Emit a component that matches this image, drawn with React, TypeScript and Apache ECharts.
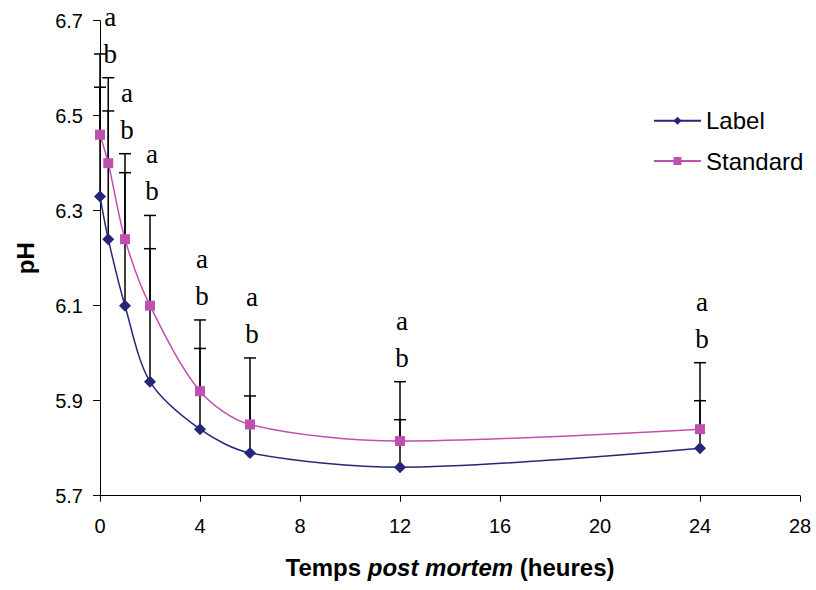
import React, { useEffect, useRef } from "react";
import * as echarts from "echarts";

// Hours post mortem
const times = [0, 0.33, 1, 2, 4, 6, 12, 24];
// pH, "Label" series
const labelPH = [6.33, 6.24, 6.1, 5.94, 5.84, 5.79, 5.76, 5.8];
// pH, "Standard" series
const standardPH = [6.46, 6.4, 6.24, 6.1, 5.92, 5.85, 5.815, 5.84];
// upper error bars (plus only)
const labelErr = [0.23, 0.27, 0.28, 0.28, 0.17, 0.12, 0.1, 0.1];
const standardErr = [0.17, 0.18, 0.18, 0.19, 0.15, 0.14, 0.125, 0.14];
// significance letters above each time point
const letterTop = ["", "a", "a", "a", "a", "a", "a", "a"];
const letterBottom = ["", "b", "b", "b", "b", "b", "b", "b"];
// axes
const yTicks = [5.7, 5.9, 6.1, 6.3, 6.5, 6.7];
const xTicks = [0, 4, 8, 12, 16, 20, 24, 28];
const seriesNames = ["Label", "Standard"];

const SANS = '"Liberation Sans", Arial, sans-serif';
const SERIF = '"Liberation Serif", "Times New Roman", serif';

export default function App() {
  const ref = useRef<HTMLDivElement>(null);

  useEffect(() => {
    if (!ref.current) return;
    const chart = echarts.init(ref.current, null, { renderer: "svg" });

    const errData = times.map((t, i) => [
      t,
      labelPH[i],
      labelPH[i] + labelErr[i],
      standardPH[i],
      standardPH[i] + standardErr[i],
    ]);

    const option: any = {
      animation: false,
      backgroundColor: "#ffffff",
      grid: {
        left: 100,
        right: 16,
        top: 20.7,
        bottom: 94.3,
        outerBoundsMode: "none",
      },
      legend: {
        orient: "vertical",
        left: 653,
        top: 107.7,
        padding: 0,
        itemWidth: 47,
        itemHeight: 10,
        itemGap: 14.3,
        textStyle: { fontFamily: SANS, fontSize: 24, color: "#000", lineHeight: 26 },
        data: seriesNames,
      },
      xAxis: {
        type: "value",
        min: xTicks[0],
        max: xTicks[xTicks.length - 1],
        interval: 4,
        splitLine: { show: false },
        axisLine: { show: true, lineStyle: { color: "#000", width: 1 } },
        axisTick: { show: true, length: 6, inside: false, lineStyle: { color: "#000" } },
        axisLabel: {
          customValues: xTicks,
          margin: 20,
          fontFamily: SANS,
          fontSize: 20,
          color: "#000",
        },
        name: "Temps {i|post mortem} (heures)",
        nameLocation: "middle",
        nameGap: 60,
        nameTextStyle: {
          fontFamily: SANS,
          fontSize: 24,
          fontWeight: "bold",
          color: "#000",
          rich: {
            i: {
              fontFamily: SANS,
              fontSize: 24,
              fontWeight: "bold",
              fontStyle: "italic",
              color: "#000",
            },
          },
        },
      },
      yAxis: {
        type: "value",
        min: yTicks[0],
        max: yTicks[yTicks.length - 1],
        splitLine: { show: false },
        axisLine: { show: true, lineStyle: { color: "#000", width: 1 } },
        axisTick: {
          show: true,
          length: 7,
          inside: false,
          customValues: yTicks,
          lineStyle: { color: "#000" },
        },
        axisLabel: {
          customValues: yTicks,
          margin: 17,
          fontFamily: SANS,
          fontSize: 20,
          color: "#000",
          formatter: (v: number) => v.toFixed(1),
        },
        name: "pH",
        nameLocation: "middle",
        nameGap: 63,
        nameRotate: 90,
        nameTextStyle: {
          fontFamily: SANS,
          fontSize: 24,
          fontWeight: "bold",
          color: "#000",
        },
      },
      series: [
        {
          type: "custom",
          z: 1,
          clip: false,
          silent: true,
          data: errData,
          encode: { x: 0, y: [1, 2, 3, 4] },
          renderItem: (params: any, api: any) => {
            const i = params.dataIndex;
            const x = api.value(0);
            const pL = api.coord([x, api.value(1)]);
            const pLt = api.coord([x, api.value(2)]);
            const pS = api.coord([x, api.value(3)]);
            const pSt = api.coord([x, api.value(4)]);
            const cap = 6;
            const ls = { stroke: "#000", lineWidth: 1.5 };
            const topY = Math.min(pLt[1], pSt[1]);
            const children: any[] = [
              { type: "line", shape: { x1: pL[0], y1: pL[1], x2: pLt[0], y2: pLt[1] }, style: ls },
              { type: "line", shape: { x1: pS[0], y1: pS[1], x2: pSt[0], y2: pSt[1] }, style: ls },
              { type: "line", shape: { x1: pLt[0] - cap, y1: pLt[1], x2: pLt[0] + cap, y2: pLt[1] }, style: ls },
              { type: "line", shape: { x1: pSt[0] - cap, y1: pSt[1], x2: pSt[0] + cap, y2: pSt[1] }, style: ls },
            ];
            const font = `27px ${SERIF}`;
            if (letterTop[i]) {
              children.push({
                type: "text",
                style: {
                  text: letterTop[i],
                  x: pL[0] + 2,
                  y: topY - 61,
                  align: "center",
                  verticalAlign: "middle",
                  font,
                  fill: "#000",
                },
              });
            }
            if (letterBottom[i]) {
              children.push({
                type: "text",
                style: {
                  text: letterBottom[i],
                  x: pL[0] + 2,
                  y: topY - 24,
                  align: "center",
                  verticalAlign: "middle",
                  font,
                  fill: "#000",
                },
              });
            }
            return { type: "group", children };
          },
        },
        {
          name: seriesNames[0],
          type: "line",
          z: 3,
          smooth: 0.3,
          data: times.map((t, i) => [t, labelPH[i]]),
          symbol: "diamond",
          symbolSize: 12,
          showSymbol: true,
          lineStyle: { color: "#262678", width: 1.5 },
          itemStyle: { color: "#262678" },
        },
        {
          name: seriesNames[1],
          type: "line",
          z: 2,
          smooth: 0.3,
          data: times.map((t, i) => [t, standardPH[i]]),
          symbol: "rect",
          symbolSize: 10,
          showSymbol: true,
          lineStyle: { color: "#c04fb0", width: 1.5 },
          itemStyle: { color: "#c04fb0" },
        },
      ],
    };

    chart.setOption(option);
    return () => chart.dispose();
  }, []);

  return (
    <div
      ref={ref}
      style={{ position: "fixed", left: 0, top: 0, width: 816, height: 590, background: "#fff" }}
    />
  );
}
